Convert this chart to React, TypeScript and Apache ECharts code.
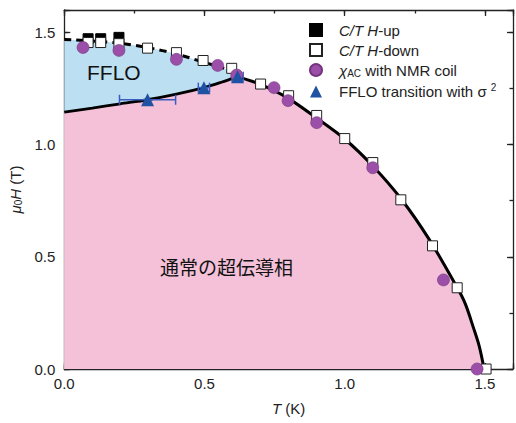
import React, { useEffect, useRef } from "react";
import * as echarts from "echarts";

// ---- data (T in K, mu0H in T) ----
const hUp: number[][] = [[0.085, 1.472], [0.13, 1.472], [0.195, 1.478]];
const hDown: number[][] = [
  [0.085, 1.455], [0.13, 1.455], [0.195, 1.45], [0.297, 1.43], [0.4, 1.41],
  [0.495, 1.375], [0.597, 1.34], [0.7, 1.27], [0.8, 1.218], [0.9, 1.13],
  [1.0, 1.027], [1.1, 0.92], [1.2, 0.754], [1.313, 0.549], [1.401, 0.362], [1.504, 0],
];
const chiAC: number[][] = [
  [0.067, 1.433], [0.195, 1.42], [0.4, 1.38], [0.547, 1.353], [0.615, 1.31],
  [0.748, 1.254], [0.798, 1.196], [0.9, 1.098], [1.1, 0.897], [1.352, 0.397], [1.472, 0],
];
const ffloTrans: number[][] = [[0.297, 1.2], [0.498, 1.254], [0.618, 1.303]];
const ffloErr: number[] = [0.1, 0.02, 0.02];
const upperDashed: number[][] = [
  [0, 1.469], [0.1, 1.462], [0.2, 1.452], [0.3, 1.432], [0.4, 1.404],
  [0.5, 1.366], [0.58, 1.335], [0.635, 1.3],
];
const lowerFFLO: number[][] = [
  [0, 1.145], [0.1, 1.163], [0.2, 1.182], [0.297, 1.2], [0.4, 1.225],
  [0.498, 1.254], [0.56, 1.278], [0.618, 1.303],
];
const hc2: number[][] = [
  [0.618, 1.303], [0.7, 1.268], [0.8, 1.205], [0.9, 1.118], [1.0, 1.025],
  [1.1, 0.905], [1.2, 0.76], [1.3, 0.58], [1.4, 0.365], [1.43, 0.29],
  [1.46, 0.18], [1.48, 0.1], [1.497, 0],
];
const legendNames = ["C/T H-up", "C/T H-down", "χAC with NMR coil", "FFLO transition with σ2"];
const xTicks = [0, 1.6];
const yTicks = [0, 1.6];

const FONT = "'Liberation Sans', Arial, sans-serif";
const AXIS_COLOR = "#222";

export default function App() {
  const ref = useRef<HTMLDivElement>(null);
  useEffect(() => {
    if (!ref.current) return;
    const chart = echarts.init(ref.current, null, { renderer: "svg" });
    const lineStyle = { color: AXIS_COLOR, width: 1.3 };
    const fmt = (v: number) => (Math.abs(v * 2 - Math.round(v * 2)) < 1e-6 ? v.toFixed(1) : "");
    const mkAxes = (isX: boolean) => {
      const [mn, mx] = isX ? xTicks : yTicks;
      const pos1 = isX ? "bottom" : "left";
      const pos2 = isX ? "top" : "right";
      const base = { type: "value", min: mn, max: mx, splitLine: { show: false } };
      return [
        {
          ...base, position: pos1, interval: 0.5,
          axisLine: { show: true, onZero: false, lineStyle },
          axisTick: { show: true, inside: true, length: 6, lineStyle },
          axisLabel: { show: true, formatter: fmt, fontSize: 15, color: AXIS_COLOR, fontFamily: FONT, margin: isX ? 7 : 9 },
          name: isX ? "{i|T} (K)" : "{i|μ}{sub|0}{i|H} (T)",
          nameLocation: "middle",
          nameGap: isX ? 32 : 21,
          nameRotate: isX ? 0 : 90,
          nameTextStyle: {
            fontSize: 15, color: AXIS_COLOR, fontFamily: FONT,
            rich: {
              i: { fontStyle: "italic", fontSize: 15, fontFamily: FONT, color: AXIS_COLOR },
              sub: { fontSize: 10, fontFamily: FONT, color: AXIS_COLOR, padding: [6, 0, 0, 0] },
            },
          },
        },
        {
          ...base, position: pos1, interval: 0.25,
          axisLine: { show: false, onZero: false },
          axisTick: { show: true, inside: true, length: 3.5, lineStyle },
          axisLabel: { show: false },
        },
        {
          ...base, position: pos2, interval: 0.5,
          axisLine: { show: true, onZero: false, lineStyle },
          axisTick: { show: true, inside: true, length: 6, lineStyle },
          axisLabel: { show: false },
        },
        {
          ...base, position: pos2, interval: 0.25,
          axisLine: { show: false, onZero: false },
          axisTick: { show: true, inside: true, length: 3.5, lineStyle },
          axisLabel: { show: false },
        },
      ];
    };

    const pinkBoundary = lowerFFLO.concat(hc2.slice(1));
    const errData = ffloTrans.map((p, i) => [p[0], p[1], ffloErr[i]]);

    const option: any = {
      animation: false,
      backgroundColor: "#fff",
      grid: { left: 63, right: 2, top: 10, bottom: 54 },
      xAxis: mkAxes(true),
      yAxis: mkAxes(false),
      legend: {
        data: legendNames,
        orient: "vertical",
        left: 304,
        top: 17,
        itemWidth: 12,
        itemHeight: 12,
        itemGap: 4,
        textStyle: {
          fontSize: 15, fontFamily: FONT, color: AXIS_COLOR, lineHeight: 16,
          padding: [0, 0, 0, 12],
          rich: {
            i: { fontStyle: "italic", fontSize: 15, fontFamily: FONT, color: AXIS_COLOR, lineHeight: 16 },
            n: { fontSize: 15, fontFamily: FONT, color: AXIS_COLOR, lineHeight: 16 },
            isub: { fontStyle: "italic", fontSize: 15, fontFamily: FONT, color: AXIS_COLOR, lineHeight: 16 },
            sub: { fontSize: 10, fontFamily: FONT, color: AXIS_COLOR, padding: [7, 0, 0, 0] },
            sup: { fontSize: 10, fontFamily: FONT, color: AXIS_COLOR, padding: [0, 0, 8, 0] },
          },
        },
        formatter: (name: string) => {
          if (name === "C/T H-up") return "{i|C/T} {i|H}{n|-up}";
          if (name === "C/T H-down") return "{i|C/T} {i|H}{n|-down}";
          if (name === "χAC with NMR coil") return "{isub|χ}{sub|AC}{n| with NMR coil}";
          return "{n|FFLO transition with σ }{sup|2}";
        },
      },
      graphic: [
        {
          type: "text", left: 87, top: 62,
          style: { text: "FFLO", fontSize: 21, fontFamily: FONT, fill: "#111" },
          z: 100,
        },
        {
          type: "text", left: 160, top: 257,
          style: { text: "通常の超伝導相", fontSize: 19, fontFamily: "'Noto Sans CJK JP', sans-serif", fill: "#111" },
          z: 100,
        },
      ],
      series: [
        {
          type: "line", data: upperDashed, smooth: 0.3, symbol: "none",
          lineStyle: { width: 0 }, areaStyle: { color: "#bcdff2", opacity: 1 }, silent: true, z: 1,
        },
        {
          type: "line", data: pinkBoundary, smooth: 0.3, symbol: "none",
          lineStyle: { width: 0 }, areaStyle: { color: "#f4c1d9", opacity: 1 }, silent: true, z: 1,
        },
        {
          type: "line", data: upperDashed, smooth: 0.3, symbol: "none",
          lineStyle: { color: "#000", width: 3, type: [7, 5] }, z: 2,
        },
        {
          type: "line", data: lowerFFLO, smooth: 0.3, symbol: "none",
          lineStyle: { color: "#000", width: 2.8 }, z: 2,
        },
        {
          type: "line", data: hc2, smooth: 0.3, symbol: "none",
          lineStyle: { color: "#000", width: 3 }, z: 2,
        },
        {
          type: "custom", data: errData, encode: { x: 0, y: 1 }, z: 3,
          renderItem: (params: any, api: any) => {
            const x = api.value(0), y = api.value(1), e = api.value(2);
            const l = api.coord([x - e, y]);
            const r = api.coord([x + e, y]);
            const st = { stroke: "#3a5cc0", lineWidth: 1.5 };
            return {
              type: "group",
              children: [
                { type: "line", shape: { x1: l[0], y1: l[1], x2: r[0], y2: r[1] }, style: st },
                { type: "line", shape: { x1: l[0], y1: l[1] - 5, x2: l[0], y2: l[1] + 5 }, style: st },
                { type: "line", shape: { x1: r[0], y1: r[1] - 5, x2: r[0], y2: r[1] + 5 }, style: st },
              ],
            };
          },
        },
        {
          name: "C/T H-up", type: "scatter", data: hUp, symbol: "rect", symbolSize: 10,
          itemStyle: { color: "#000", borderColor: "#000", borderWidth: 1, opacity: 1 }, z: 4,
        },
        {
          name: "C/T H-down", type: "scatter", data: hDown, symbol: "rect", symbolSize: 10,
          itemStyle: { color: "#fff", borderColor: "#222", borderWidth: 1, opacity: 1 }, z: 5,
        },
        {
          name: "χAC with NMR coil", type: "scatter", data: chiAC, symbol: "circle", symbolSize: 12,
          itemStyle: { color: "#9c4fa8", borderColor: "#74357f", borderWidth: 0.6, opacity: 1 }, z: 6,
        },
        {
          name: "FFLO transition with σ2", type: "scatter", data: ffloTrans, symbol: "triangle", symbolSize: 13,
          itemStyle: { color: "#1f52a2", opacity: 1 }, z: 7,
        },
      ],
    };
    chart.setOption(option);
    return () => chart.dispose();
  }, []);
  return (
    <div
      ref={ref}
      style={{ position: "fixed", left: 0, top: 0, width: 516, height: 423, background: "#fff" }}
    />
  );
}
